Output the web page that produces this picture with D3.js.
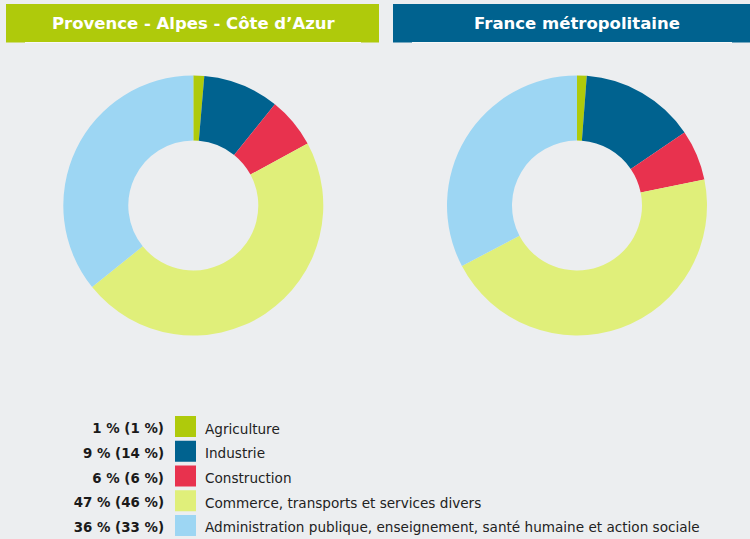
<!DOCTYPE html>
<html>
<head>
<meta charset="utf-8">
<script src="https://cdn.jsdelivr.net/npm/d3@7"></script>
<style>
  html, body { margin: 0; padding: 0; background: #eceef0; }
  svg { display: block; }
  text { font-family: "DejaVu Sans", sans-serif; }
</style>
</head>
<body>
<svg id="chart" width="750" height="539"></svg>
<script>
const categories = ["Agriculture", "Industrie", "Construction",
  "Commerce, transports et services divers",
  "Administration publique, enseignement, santé humaine et action sociale"];
const colors = ["#afca0b", "#00628f", "#e8324e", "#e0ef7a", "#9dd6f3"];
const regionName = "Provence - Alpes - Côte d’Azur";
const franceName = "France métropolitaine";
const regionValues = [1.35, 9.45, 6.3, 47.1, 35.8];
const franceValues = [1.2, 14.3, 6.3, 45.5, 32.7];
const regionLabels = ["1 %", "9 %", "6 %", "47 %", "36 %"];
const franceLabels = ["1 %", "14 %", "6 %", "46 %", "33 %"];

const svg = d3.select("#chart");

const panels = [
  {name: regionName, values: regionValues, header: "#afca0b", x0: 6, x1: 379, cx: 193.3},
  {name: franceName, values: franceValues, header: "#00628f", x0: 393, x1: 750, cx: 577}
];

const color = d3.scaleOrdinal().domain(categories).range(colors);
const pie = d3.pie().sort(null).value(d => d.v);
const arc = d3.arc().innerRadius(65).outerRadius(130);

panels.forEach(p => {
  const g = svg.append("g");
  g.append("rect").attr("x", p.x0).attr("y", 4).attr("width", p.x1 - p.x0).attr("height", 38.5)
    .attr("fill", p.header);
  g.append("line").attr("x1", p.x0 + 19).attr("x2", p.x1 - 18).attr("y1", 42.5).attr("y2", 42.5)
    .attr("stroke", "#f7f8f8").attr("stroke-width", 1);
  g.append("text").attr("x", p.cx).attr("y", 23.5)
    .attr("text-anchor", "middle").attr("dominant-baseline", "central")
    .attr("fill", "#ffffff").attr("font-weight", "bold").attr("font-size", 16.5)
    .text(p.name);

  const data = categories.map((c, i) => ({c, v: p.values[i]}));
  g.append("g").attr("transform", `translate(${p.cx},205.5)`)
    .selectAll("path").data(pie(data)).join("path")
    .attr("d", arc).attr("fill", d => color(d.data.c));
});

// legend
const y = d3.scaleBand().domain(categories).range([416, 536]).paddingInner(0.1515).paddingOuter(0);
const lg = svg.append("g");
categories.forEach((c, i) => {
  const yy = y(c);
  const bw = y.bandwidth();
  lg.append("rect").attr("x", 175).attr("y", yy).attr("width", 21).attr("height", bw)
    .attr("fill", color(c));
  lg.append("text").attr("x", 164).attr("y", yy + bw / 2 + 2)
    .attr("text-anchor", "end").attr("dominant-baseline", "central")
    .attr("font-weight", "bold").attr("font-size", 13.4).attr("fill", "#1a1a1a")
    .text(`${regionLabels[i]} (${franceLabels[i]})`);
  lg.append("text").attr("x", 205).attr("y", yy + bw / 2 + 2)
    .attr("dominant-baseline", "central")
    .attr("font-size", 13.6).attr("fill", "#222222")
    .text(c);
});
</script>
</body>
</html>
